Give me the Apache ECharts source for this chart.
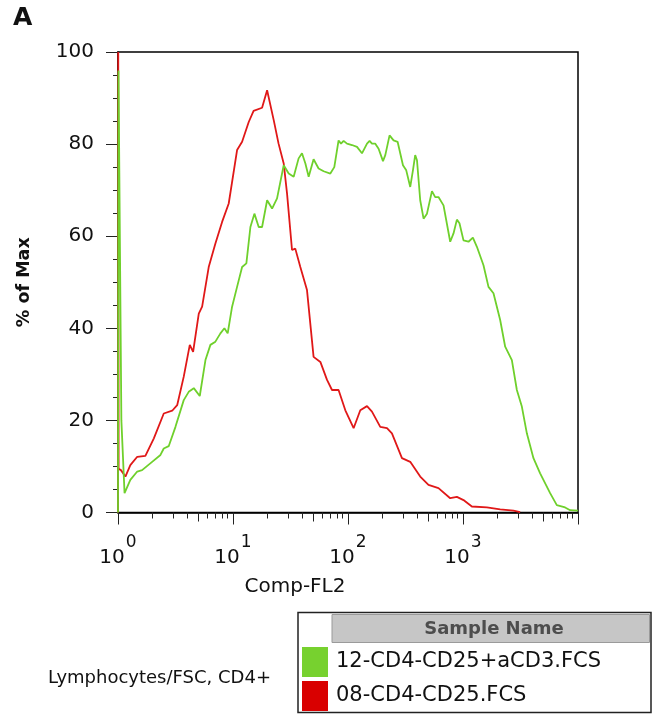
<!DOCTYPE html>
<html>
<head>
<meta charset="utf-8">
<script src="https://cdn.jsdelivr.net/npm/echarts@6/dist/echarts.min.js"></script>
<style>
  html, body { margin: 0; padding: 0; background: #fff; }
  #chart { width: 654px; height: 715px; }
</style>
</head>
<body>
<div id="chart"></div>
<script>
const FONT = "'DejaVu Sans', sans-serif";

// Sample names and colours
const sampleNames = ['12-CD4-CD25+aCD3.FCS', '08-CD4-CD25.FCS'];
const sampleColors = ['#6fd02c', '#e01818'];
const gateLabel = 'Lymphocytes/FSC, CD4+';

// 08-CD4-CD25.FCS : Comp-FL2 channel value and % of Max
const unstimChannel = [1.00, 1.005, 1.01, 1.012, 1.06, 1.16, 1.28, 1.47, 1.73, 2.05, 2.50, 2.96, 3.27, 3.73, 4.21, 4.50,
  5.04, 5.39, 6.15, 7.03, 8.04, 9.18, 10.85, 12.0, 13.7, 15.1, 17.9, 19.8, 22.6, 24.9, 27.6, 29.5, 32.6,
  34.8, 38.5, 44.0, 50.2, 57.5, 65.7, 72.6, 82.8, 94.8, 111.9, 127.9, 146.3, 161.6, 190.8, 218.3, 241,
  294.6, 347.7, 424.6, 501, 612, 774, 885, 1010, 1194, 1613, 2105, 2747, 3141];
const unstimPct = [0, 100, 100, 9.5, 9.2, 7.8, 10.3, 12.1, 12.3, 16.1, 21.5, 22.1, 23.3, 29.5, 36.4, 34.9,
  43.2, 44.7, 53.3, 58.4, 63.1, 67.1, 78.7, 80.5, 84.8, 87.2, 87.9, 91.7, 85.2, 80.1, 75.8, 69.3, 57.0,
  57.3, 53.3, 48.3, 33.8, 32.7, 28.8, 26.6, 26.6, 22.2, 18.3, 22.2, 23.1, 21.9, 18.6, 18.3, 17.2,
  11.8, 11.0, 7.8, 6.0, 5.3, 3.1, 3.4, 2.7, 1.3, 1.1, 0.7, 0.4, 0.1];

// 12-CD4-CD25+aCD3.FCS : Comp-FL2 channel value and % of Max
const stimChannel = [1.00, 1.01, 1.04, 1.07, 1.14, 1.28, 1.47, 1.62, 1.98, 2.34, 2.50, 2.76, 3.16, 3.73,
  4.12, 4.56, 5.14, 5.76, 6.36, 7.03, 7.77, 8.42, 8.99, 9.82, 10.85, 12.0, 13.07, 14.17, 15.35, 16.73,
  17.9, 19.8, 21.87, 24.16, 27.6, 30.5, 33.7, 37.2, 39.8, 42.6, 45.5, 50.2, 55.5, 61.4, 70.2, 76.0,
  82.8, 86.9, 91.6, 98.0, 108.3, 119.7, 132.3, 146.3, 154.1, 161.6, 172.7, 184.5, 201.5, 211, 229.8,
  249, 270, 300.6, 321, 347.7, 367, 384, 398, 424.6, 454, 486, 537, 573, 612, 677, 774, 827, 885, 932,
  1010, 1116, 1219, 1321, 1507, 1666, 1841, 2105, 2327, 2660, 2940, 3249, 3591, 4099, 4686, 5722,
  6543, 7725, 8541, 10000];
const stimPct = [0, 96, 96, 20, 4.2, 7.1, 8.9, 9.2, 11.0, 12.5, 13.9, 14.4, 18.6, 24.4,
  26.2, 27.0, 25.3, 33.1, 36.4, 37.1, 38.9, 40.0, 38.9, 44.7, 49.0, 53.3, 54.1, 62.0, 64.9, 62.0,
  62.0, 67.8, 66.0, 68.2, 75.4, 73.6, 72.9, 76.9, 78.0, 75.8, 72.9, 76.7, 74.7, 74.1, 73.6, 75.0,
  80.8, 80.1, 80.7, 80.1, 79.8, 79.4, 78.0, 80.1, 80.7, 80.1, 80.1, 79.0, 76.3, 77.6, 81.9,
  80.8, 80.5, 75.4, 74.3, 70.7, 74.3, 77.6, 76.5, 67.8, 63.8, 64.9, 69.8, 68.5, 68.5, 66.7, 58.8, 60.6, 63.6, 62.8,
  59.1, 58.8, 59.7, 57.7, 53.7, 49.0, 47.6, 41.8, 36.0, 33.1, 26.6, 23.0, 17.2, 11.8, 8.5, 4.2,
  1.6, 1.1, 0.5, 0.4];

// Axis ticks: decades carry labels, fives are mid-length, the rest are short
const decadeExponents = [0, 1, 2, 3, 4];
const labelledExponents = [0, 1, 2, 3];
const fiveTicks = [5, 50, 500, 5000];
const minorMultipliers = [2, 3, 4, 6, 7, 8, 9];

// The x scale runs in decades (log10 of the channel value)
const toDecades = (ch, pct) => ch.map((c, i) => [Math.log10(c), pct[i]]);
const minorDecades = [];
[1, 10, 100, 1000].forEach(d => minorMultipliers.forEach(m => minorDecades.push(Math.log10(d * m))));

const baseX = {
  type: 'value', min: 0, max: 4, gridIndex: 0, position: 'bottom',
  splitLine: { show: false },
  axisLine: { show: false },
  axisLabel: { show: false }
};

const chart = echarts.init(document.getElementById('chart'), null, { renderer: 'canvas' });
chart.setOption({
  animation: false,
  backgroundColor: '#fff',
  grid: {
    left: 118, right: 76, top: 52, bottom: 202.5,
    show: true, borderColor: '#000', borderWidth: 1.5, backgroundColor: 'transparent'
  },
  xAxis: [
    Object.assign({}, baseX, {
      axisLine: { show: true, lineStyle: { color: '#000', width: 1.5 } },
      axisTick: { show: true, customValues: decadeExponents, length: 12, lineStyle: { color: '#222', width: 1 } },
      axisLabel: {
        show: true,
        customValues: labelledExponents,
        margin: 19,
        formatter: v => '{b|10}{s|' + Math.round(v) + '}',
        rich: {
          b: { fontFamily: FONT, fontSize: 20, color: '#111', padding: [16, 0, 0, 0] },
          s: { fontFamily: FONT, fontSize: 17, color: '#111', padding: [0, 0, 14, 1] }
        }
      },
      name: 'Comp-FL2',
      nameLocation: 'middle',
      nameGap: 64,
      nameTextStyle: { fontFamily: FONT, fontSize: 20, color: '#111', padding: [0, 106, 0, 0] }
    }),
    Object.assign({}, baseX, {
      axisTick: { show: true, customValues: fiveTicks.map(Math.log10), length: 9, lineStyle: { color: '#222', width: 1 } }
    }),
    Object.assign({}, baseX, {
      axisTick: { show: true, customValues: minorDecades, length: 6, lineStyle: { color: '#222', width: 1 } }
    })
  ],
  yAxis: {
    type: 'value', min: 0, max: 100, interval: 20,
    splitLine: { show: false },
    axisLine: { show: true, lineStyle: { color: '#000', width: 1.5 } },
    axisTick: { show: true, length: 12, lineStyle: { color: '#222', width: 1 } },
    minorTick: { show: true, splitNumber: 4, length: 5, lineStyle: { color: '#222', width: 1 } },
    axisLabel: { margin: 24, fontFamily: FONT, fontSize: 20, color: '#111' },
    name: '% of Max',
    nameLocation: 'middle',
    nameGap: 85,
    nameTextStyle: { fontFamily: FONT, fontSize: 17.5, fontWeight: 'bold', color: '#111' }
  },
  series: [
    {
      name: sampleNames[1], type: 'line', xAxisIndex: 0, showSymbol: false, smooth: false,
      data: toDecades(unstimChannel, unstimPct),
      lineStyle: { color: sampleColors[1], width: 1.8 }, itemStyle: { color: sampleColors[1] }, z: 2
    },
    {
      name: sampleNames[0], type: 'line', xAxisIndex: 0, showSymbol: false, smooth: false,
      data: toDecades(stimChannel, stimPct),
      lineStyle: { color: sampleColors[0], width: 1.8 }, itemStyle: { color: sampleColors[0] }, z: 3
    }
  ],
  graphic: [
    { type: 'text', left: 13, top: 6, style: { text: 'A', font: 'bold 25px ' + FONT, fill: '#111' } },
    { type: 'text', x: 48, y: 678, style: { text: gateLabel, font: '18px ' + FONT, fill: '#111', verticalAlign: 'middle' } },
    { type: 'rect', shape: { x: 298, y: 612.5, width: 353, height: 100 }, style: { fill: '#fff', stroke: '#222', lineWidth: 1.5 } },
    { type: 'rect', shape: { x: 332, y: 614.5, width: 317.5, height: 28 }, style: { fill: '#c6c6c6', stroke: '#9a9a9a', lineWidth: 1 } },
    { type: 'text', x: 494, y: 629, style: { text: 'Sample Name', font: 'bold 18px ' + FONT, fill: '#4d4d4d', align: 'center', verticalAlign: 'middle' } },
    { type: 'rect', shape: { x: 302, y: 647, width: 26, height: 30 }, style: { fill: '#77d12f' } },
    { type: 'rect', shape: { x: 302, y: 681, width: 26, height: 30 }, style: { fill: '#d90000' } },
    { type: 'text', x: 336, y: 662, style: { text: sampleNames[0], font: '21px ' + FONT, fill: '#111', verticalAlign: 'middle' } },
    { type: 'text', x: 336, y: 696, style: { text: sampleNames[1], font: '21px ' + FONT, fill: '#111', verticalAlign: 'middle' } }
  ]
});
</script>
</body>
</html>
